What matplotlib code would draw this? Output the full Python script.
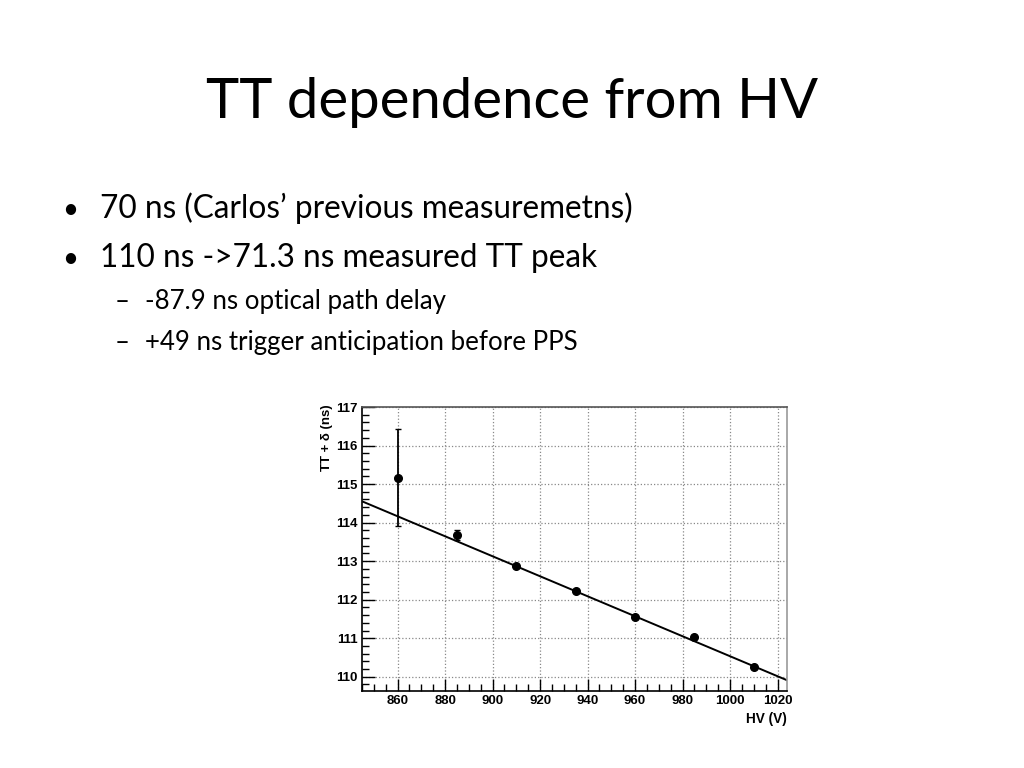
import matplotlib.pyplot as plt
from matplotlib.ticker import MultipleLocator

# measured points
hv = [860, 885, 910, 935, 960, 985, 1010]
tt = [115.17, 113.68, 112.87, 112.22, 111.55, 111.02, 110.25]
tt_err = [1.27, 0.13, 0.03, 0.03, 0.03, 0.03, 0.03]

# linear fit, read at both ends of the drawn line
fit_hv = [845.5, 1024.0]
fit_tt = [114.54, 109.91]

title = "TT dependence from HV"
bullets = ["70 ns (Carlos\u2019 previous measuremetns)",
           "110 ns ->71.3 ns measured TT peak"]
subs = ["-87.9 ns optical path delay",
        "+49 ns trigger anticipation before PPS"]

slide_font = ['Lato', 'DejaVu Sans']

fig = plt.figure(figsize=(10.24, 7.68), dpi=100)
fig.patch.set_facecolor('white')

fig.text(0.5, 1 - 118 / 768, title, ha='center', va='baseline', fontsize=40.5, family=slide_font)
for txt, y in zip(bullets, [218, 267]):
    fig.text(62 / 1024, 1 - y / 768, '\u2022', ha='left', va='baseline', fontsize=20, family=slide_font)
    fig.text(100 / 1024, 1 - y / 768, txt, ha='left', va='baseline', fontsize=22.7, family=slide_font)
for txt, y in zip(subs, [309, 350]):
    fig.text(115 / 1024, 1 - y / 768, '\u2013', ha='left', va='baseline', fontsize=18.5, family=slide_font)
    fig.text(145 / 1024, 1 - y / 768, txt, ha='left', va='baseline', fontsize=18.6, family=slide_font)

ax = fig.add_axes([362 / 1024, 1 - 691 / 768, (787 - 362) / 1024, (691 - 407) / 768])
ax.plot(fit_hv, fit_tt, color='black', lw=1.4)
ax.errorbar(hv, tt, yerr=tt_err, fmt='o', color='black', ms=5.5, elinewidth=1.3, capsize=2, capthick=1)

ax.set_xlim(845, 1024)
ax.set_ylim(109.63, 117.0)
ax.xaxis.set_major_locator(MultipleLocator(20))
ax.xaxis.set_minor_locator(MultipleLocator(5))
ax.yaxis.set_major_locator(MultipleLocator(1))
ax.yaxis.set_minor_locator(MultipleLocator(0.2))
ax.tick_params(which='both', direction='in', top=False, right=False, labelsize=9.5, pad=3)
ax.tick_params(which='major', length=9, width=1)
ax.tick_params(which='minor', length=5, width=1)
for lab in ax.get_xticklabels() + ax.get_yticklabels():
    lab.set_fontweight('bold')
    lab.set_family('Liberation Sans')
ax.grid(which='major', color='#888888', linestyle=':', lw=0.9)
for s in ax.spines.values():
    s.set_linewidth(1.2)
ax.spines['right'].set_color('#999999')
ax.spines['top'].set_color('#555555')

ax.set_xlabel('HV (V)', fontsize=9.8, fontweight='bold', family='Liberation Sans')
ax.xaxis.set_label_coords(1.0, -0.075)
ax.xaxis.label.set_ha('right')
ax.set_ylabel('TT + \u03b4 (ns)', fontsize=9.5, fontweight='bold', family='Liberation Sans')
ax.yaxis.set_label_coords(-0.068, 1.01)
ax.yaxis.label.set_ha('right')

fig.savefig('out.png', dpi=100)
